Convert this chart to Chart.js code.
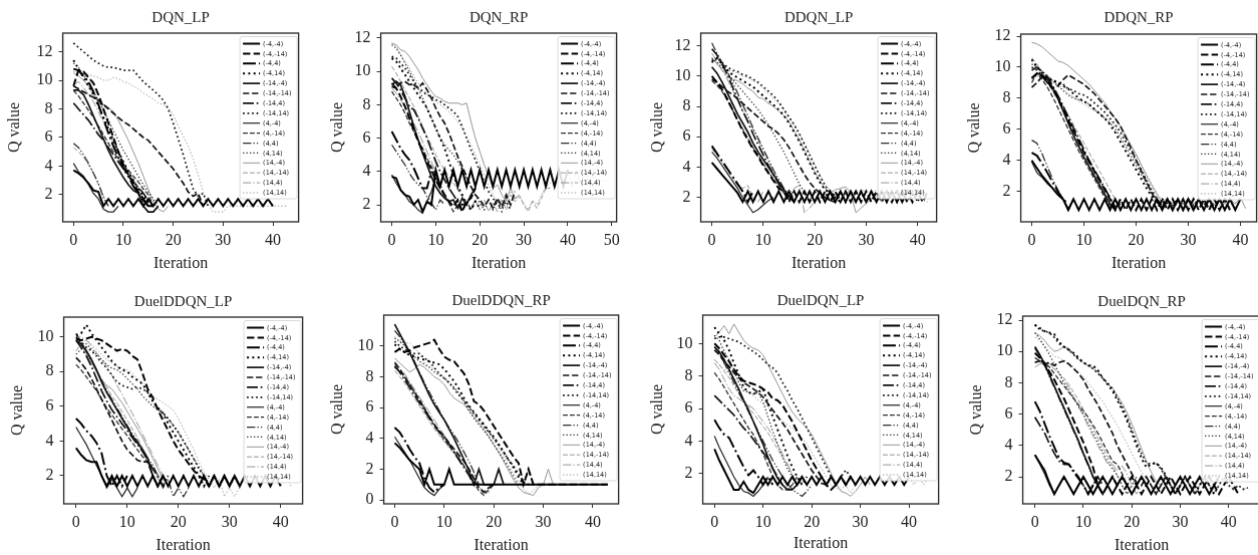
<!DOCTYPE html>
<html><head><meta charset="utf-8">
<script src="https://cdn.jsdelivr.net/npm/chart.js@4.4.1/dist/chart.umd.min.js"></script>
<style>
html,body{margin:0;padding:0;background:#fff;overflow:hidden;width:1258px;height:555px;position:relative;}
.p{position:absolute;}
</style></head><body>
<script>
// ---------- labels & ticks ----------
const seriesLabels = ['(-4,-4)','(-4,-14)','(-4,4)','(-4,14)','(-14,-4)','(-14,-14)','(-14,4)','(-14,14)',
  '(4,-4)','(4,-14)','(4,4)','(4,14)','(14,-4)','(14,-14)','(14,4)','(14,14)'];
const panelTitles = ['DQN_LP','DQN_RP','DDQN_LP','DDQN_RP','DuelDDQN_LP','DuelDDQN_RP','DuelDQN_LP','DuelDQN_RP'];
const xTicks40 = [0,10,20,30,40];
const xTicks50 = [0,10,20,30,40,50];
const yTicks2to12 = [2,4,6,8,10,12];
const yTicks2to10 = [2,4,6,8,10];
const yTicks0to10 = [0,2,4,6,8,10];

// ---------- data: Q value per iteration (index = iteration) ----------
const DQN_LP = [
 [3.7,3.5,3.2,2.8,2.3,2.2, 1.2,1.7,1.2,1.7,1.2,1.7,1.2,1.7,1.2,1.7,1.2,1.7,1.2,1.7,1.2,1.7,1.2,1.7,1.2,1.7,1.2,1.7,1.2,1.7,1.2,1.7,1.2,1.7,1.2,1.7,1.2,1.7,1.2,1.7,1.2],
 [9.6,10.7,10.6,10.2,9.8,9.0,8.0,7.0,6.0,5.0,4.1,3.4,2.8,2.2,1.7,1.2,1.2],
 [10.8,10.7,10.3,9.9,9.2,8.3,7.3,6.3,5.4,4.6,3.9,3.3,2.6,2.1,1.6,1.2],
 [11.4,10.8,10.2,9.6,9.0,8.2,7.4,6.6,5.8,5.0,4.3,3.6,3.0,2.4,1.9,1.4,1.2],
 [9.3,9.3,9.0,8.3,7.5,6.7,5.9,5.1,4.4,3.8,3.2,2.7,2.3,2.1,1.2,0.8,0.8,1.2],
 [9.6,9.4,9.2,9.0,8.8,8.6,8.3,8.0,7.7,7.4,7.1,6.9,6.6,6.3,6.0,5.8,5.4,5.0,4.6,4.2,3.8,3.3,2.8,2.2,1.9,2.1,1.2],
 [8.4,8.0,7.6,7.2,6.7,6.2,5.8,5.3,4.8,4.3,3.8,3.3,2.9,2.5,2.1,1.6,1.2],
 [12.6,12.3,12.0,11.7,11.4,11.2,11.0,10.9,10.9,10.8,10.7,10.7,10.7,10.3,9.9,9.6,9.3,9.0,8.6,8.0,7.0,5.9,4.8,3.6,2.4,1.9,2.1,1.2],
 [4.2,3.6,3.3,2.7,2.1,1.7,1.0,0.8,0.8,1.2],
 [9.3,8.9,8.4,7.9,7.4,6.8,6.2,5.6,5.0,4.5,4.1,3.7,3.3,2.9,2.4,2.0,1.2],
 [5.6,5.3,4.8,4.2,3.5,2.8,1.8,1.2],
 [11.2,10.9,10.4,9.8,9.2,8.6,7.9,7.2,6.5,5.8,5.1,4.5,3.9,3.3,2.7,2.2,1.7,1.2],
 [10.5,10.3,10.0,9.6,9.0,8.5,8.3,8.1,7.8,7.2,6.5,5.8,5.0,4.2,3.3,2.4,1.5,1.0,0.8,1.2],
 [5.3,5.0,4.6,4.1,3.5,2.7,1.9,1.2],
 [9.7,9.9,9.5,9.0,8.5,7.8,7.1,6.4,5.6,4.9,4.2,3.6,3.1,2.5,2.1,1.6,1.2],
 [10.6,10.6,10.5,10.4,10.3,10.2,10.0,10.0,10.2,10.1,9.9,9.8,9.6,9.4,9.1,8.9,8.7,8.4,8.3,8.1,7.6,6.8,6.1,5.4,4.5,3.4,2.2,1.3,0.8,0.8,0.8,1.2,1.2,1.2,1.2,1.2,1.2,1.2,1.2,1.2,1.2,1.2,1.2,1.2]
];
const DQN_RP = [
 [3.7,3.6,2.9,2.6,2.5,2.0,2.3,1.6,2.2,2.0, 4.1,3.1,4.1,3.1,4.1,3.1,4.1,3.1,4.1,3.1,4.1,3.1,4.1,3.1,4.1,3.1,4.1,3.1,4.1,3.1,4.1,3.1,4.1,3.1,4.1,3.1,4.1,3.1,4.1,3.1,4.1],
 [9.1,9.0,8.5,7.9,7.2,6.5,5.8,5.2,4.6,4.1,3.5,3.0,2.6,2.2,1.9,2.3,1.6,2.2,2.4,3.0],
 [6.4,5.9,5.4,5.0,4.7,4.2,3.6,3.0,3.0,4.0],
 [10.8,10.6,10.2,9.8,9.4,9.0,8.6,8.2,7.8,7.2,6.6,6.0,5.4,4.6,3.8,3.1,2.6,2.0,1.7,2.2,1.8],
 [9.2,9.4,9.2,8.5,7.6,6.7,5.9,5.1,4.4,3.7,3.1,2.7,2.4,2.2,2.3,1.8,2.4,2.0,2.6,3.0],
 [9.3,9.0,9.3,9.4,9.2,9.2,9.0,9.3,8.9,8.4,7.8,7.3,6.9,6.3,5.6,4.9,4.3,3.7,3.1,2.6,2.3,1.9,2.3,1.8,2.4,1.9,2.6,2.0,2.8],
 [9.6,9.3,8.9,8.4,7.9,7.7,7.2,6.6,6.0,5.3,4.6,4.0,3.5,3.0,2.6,2.2,2.0,2.1],
 [10.9,10.8,10.5,10.2,9.8,9.4,9.0,8.8,8.6,8.5,8.3,8.2,8.0,7.8,7.6,7.3,6.7,6.0,5.3,4.7,4.0,3.4,2.8,2.4,2.0,1.8,2.2,1.7],
 [3.8,3.3,2.9,2.6,2.2,2.0,1.7,1.5,2.2,2.8,3.6,3.2],
 [8.8,8.4,8.0,7.5,6.9,6.4,5.9,5.4,4.8,4.3,3.8,3.2,2.6,2.1,1.6,2.0,1.6,2.2,1.7,2.2],
 [5.6,5.2,4.8,4.4,3.9,3.5,3.2,3.0,2.5,2.1,1.7,2.3,2.0],
 [11.6,11.4,11.0,10.5,10.0,9.5,9.0,8.4,7.8,7.2,6.6,6.0,5.6,5.3,5.0,4.6,4.1,3.6,3.1,2.6,2.1,1.7,2.3,1.7,2.2,1.6,2.5,2.0],
 [11.7,11.6,11.3,11.2,10.9,10.5,10.1,9.6,9.2,8.8,8.5,8.4,8.2,8.1,8.1,8.1,8.0,8.1,7.0,6.0,5.2,4.4,3.7,3.0,3.2,2.6,2.2,3.0,2.4,2.6],
 [10.3,9.9,9.4,8.9,8.4,7.9,7.3,6.7,6.1,5.6,5.0,4.5,4.1,3.7,3.3,2.9,2.5,2.2,1.8,2.3,1.7,2.3,1.6,2.1,1.6,2.3,1.7,2.6,2.2,2.5,2.0,1.6,2.2,1.8,2.4,3.0,3.0],
 [9.0,8.7,8.3,7.9,7.4,6.9,6.4,5.8,5.2,4.6,3.9, 3.1,4.1,3.1,4.1,3.1,4.1,3.1,4.1,3.1,4.1,3.1,4.1,3.1,4.1,3.1,4.1,3.1,4.1,3.1,4.1,3.1,4.1,3.1,4.1,3.1,4.1,3.1,4.1,3.1,4.1,3.1,4.1,3.1,4.1,3.1,4.1],
 [11.7,11.5,11.0,10.6,10.2,9.7,9.3,8.9,8.6,8.4,8.2,8.0,7.8,7.6,7.3,7.0,6.6,6.1,5.6,5.0,4.4,3.8,3.2,2.6,2.2,1.9,2.4,2.8,2.3,2.6,2.1,1.7,2.3,2.0,2.6,3.1,3.3,3.5,3.4,3.5,3.6,3.4,3.5,3.8,3.6,3.4,3.7,3.5,3.4,3.5]
];
const DDQN_LP = [
 [4.3,3.9,3.5,3.1,2.7,2.3, 1.7,2.4,1.7,2.4,1.7,2.4,1.7,2.4,1.7,2.4,1.7,2.4,1.7,2.4,1.7,2.4,1.7,2.4,1.7,2.4,1.7,2.4,1.7,2.4,1.7,2.4,1.7,2.4,1.7,2.4,1.7,2.4,1.7],
 [10.0,9.6,9.1,8.5,7.8,7.1,6.4,5.8,5.2,4.7,4.1,3.6,3.1,2.6, 2.4,1.7,2.4,1.7,2.4,1.7,2.4,1.7,2.4,1.7,2.4,1.7,2.4,1.7,2.4,1.7,2.4,1.7,2.4,1.7,2.4,1.7,2.4,1.7,2.4,1.7,2.4,1.7,2.4],
 [5.4,4.9,4.4,3.9,3.4,2.9,2.4,1.7,2.4],
 [11.0,11.2,10.8,10.4,10.1,9.9,9.7,9.5,9.3,9.0,8.7,8.4,8.1,7.8,7.4,6.9,6.3,5.7,5.0,4.3,3.6,3.0,2.5,2.3,2.0,1.7,2.4],
 [10.6,10.2,9.6,8.9,8.2,7.5,6.9,6.3,5.6,5.0,4.5,4.0,3.5,3.0,2.5,2.1,1.7],
 [9.8,9.6,9.3,9.0,8.8,8.5,8.2,7.9,7.6,7.3,7.0,6.7,6.5,6.2,5.8,5.3,4.7,4.1,3.5,3.0,2.6,2.3,2.0,1.8,1.7,2.4],
 [11.8,11.4,10.8,10.1,9.3,8.5,7.7,7.0,6.2,5.5,4.8,4.1,3.5,2.9,2.4,2.0],
 [10.9,11.2,10.9,10.6,10.4,10.3,10.1,10.0,9.8,9.6,9.3,9.0,8.7,8.3,7.8,7.3,6.8,6.2,5.5,4.8,4.1,3.4,2.8,2.3, 1.7,2.4,1.7,2.4,1.7,2.4,1.7,2.4,1.7,2.4,1.7,2.4,1.7,2.4,1.7,2.4,1.7,2.4],
 [5.0,4.6,4.1,3.6,3.1,2.6,2.0,1.5,1.0,1.2,1.5,1.8,2.0],
 [9.7,9.4,9.0,8.4,7.8,7.1,6.5,5.9,5.3,4.8,4.2,3.7,3.2,2.7,2.3,1.9,1.7],
 [12.2,11.5,10.9,10.3,9.6,8.9,8.1,7.4,6.6,5.9,5.2,4.5,3.8,3.2,2.6,2.1,2.4],
 [11.2,10.9,10.6,10.2,9.8,9.4,9.0,8.6,8.2,7.8,7.3,6.8,6.2,5.6,5.0,4.3,3.6,2.9,2.3,1.8,2.4],
 [11.2,10.8,10.4,10.0,9.8,9.7,9.5,9.2,9.0,8.6,8.5,8.2,8.0,7.7,7.4,7.0,6.4,5.8,5.1,4.4,3.7,3.1,2.6,2.3,2.5,2.6,2.7,2.3,1.0,1.3,1.6,1.9,2.2,1.7],
 [5.2,4.8,4.3,3.8,3.3,2.8,2.6,2.8,2.0,1.7,2.4],
 [11.5,11.0,10.4,9.8,9.1,8.4,7.7,7.1,6.5,5.8,5.1,4.4,3.7,3.0,2.5,2.3,2.6,2.8,1.0,1.3,1.7,2.0,2.3],
 [11.0,11.0,10.7,10.4,10.3,10.2,10.0,9.9,9.7,9.5,9.2,8.8,8.5,8.2,7.8,7.3,6.8,6.2,5.6,4.9,4.2,3.5,2.9,2.4,2.2,2.0,2.3,2.4,2.3,2.5,2.4,2.2,2.5,2.2,2.4,2.1,2.5,2.3,2.2,2.4,2.0,1.8,1.7]
];
const DDQN_RP = [
 [4.0,3.5,3.0,2.6,2.2,1.8, 1.5,0.8,1.5,0.8,1.5,0.8,1.5,0.8,1.5,0.8,1.5,0.8,1.5,0.8,1.5,0.8,1.5,0.8,1.5,0.8,1.5,0.8,1.5,0.8,1.5,0.8,1.5,0.8,1.5,0.8,1.5,0.8,1.5,0.8,1.5],
 [9.3,9.6,9.4,9.1,8.6,8.0,7.3,6.6,5.9,5.2,4.5,3.9,3.3,2.7,2.1, 1.5,0.8,1.5,0.8,1.5,0.8,1.5,0.8,1.5,0.8,1.5,0.8,1.5,0.8,1.5,0.8,1.5,0.8,1.5,0.8,1.5,0.8,1.5,0.8],
 [4.5,4.3,3.8,3.2,2.6,2.0,1.5,1.2],
 [10.5,10.0,9.6,9.3,9.2,9.0,8.8,8.6,8.3,8.0,7.8,7.6,7.3,7.0,6.7,6.3,5.8,5.2,4.6,4.0,3.4,2.8,2.2,1.7,1.2,1.5,1.2],
 [9.3,9.6,9.5,9.2,8.7,8.0,7.2,6.4,5.6,4.9,4.2,3.6,3.0,2.4,1.8,1.2,0.8,1.5],
 [8.7,9.0,9.4,9.0,8.6,8.8,9.2,9.5,9.3,9.1,8.9,8.6,8.3,7.9,7.5,7.1,6.7,6.2,5.5,4.8,4.0,3.3,2.6,1.9,1.3,1.0,1.5,0.8,1.5,0.8,1.5,0.8,1.5],
 [9.8,10.0,9.7,9.4,8.8,8.2,7.5,6.8,6.1,5.4,4.7,4.0,3.4,2.8,2.2,1.6,1.0,1.2],
 [10.0,9.8,9.5,9.3,9.1,9.0,8.9,8.6,8.5,8.3,8.2,8.0,7.7,7.4,7.1,6.7,6.3,5.8,5.2,4.6,4.0,3.4,2.7,2.1,1.5,1.1,1.5,1.1,1.5,1.1,1.5,1.1,1.5,1.1,1.5,1.0,1.5,0.9,1.4,0.9],
 [3.9,3.2,2.9,2.5,2.2,1.8,1.5,0.8,1.5],
 [9.0,9.6,9.2,8.7,8.1,7.4,6.7,6.0,5.3,4.6,4.0,3.4,2.8,2.2,1.6,1.0,1.5],
 [5.3,5.1,4.4,3.6,2.8,2.1,1.5,0.9,1.5],
 [10.2,10.0,9.7,9.4,9.1,8.8,8.5,8.2,8.0,7.9,7.8,7.6,7.3,7.0,6.7,6.4,6.0,5.5,4.9,4.3,3.7,3.1,2.5,1.9,1.4,1.0,1.5],
 [11.6,11.5,11.3,11.0,10.7,10.4,10.3,10.1,9.8,9.5,9.2,8.9,8.5,8.1,7.7,7.2,6.7,6.2,5.6,5.0,4.4,3.7,3.0,2.4,1.8,1.3,1.5,1.2,1.5,1.2,1.5,1.2,1.5,1.2,1.5,1.2,1.5,1.2,1.5,1.2,1.6,0.9],
 [10.6,10.2,9.7,9.0,8.5,8.0,7.5,6.9,6.3,5.7,5.1,4.5,3.9,3.3,2.7,2.1,1.5,1.0],
 [9.2,9.5,9.3,9.0,8.5,7.9,7.2,6.5,5.8,5.2,4.5,3.9,3.3,2.7,2.1,1.5,1.0],
 [10.4,10.1,9.8,9.5,9.2,8.9,8.6,8.3,8.1,7.8,7.6,7.4,7.2,7.0,6.8,6.5,6.2,5.9,5.4,4.9,4.3,3.7,3.1,2.5,1.9,1.4,1.0,1.3,1.2,1.5,1.0,1.4,1.2,1.5,1.0,1.4,1.1,1.5,1.0,1.3,1.2]
];
const DuelDDQN_LP = [
 [3.6,3.2,2.9,2.8,2.8, 2.0,1.4,2.0,1.4,2.0,1.4,2.0,1.4,2.0,1.4,2.0,1.4,2.0,1.4,2.0,1.4,2.0,1.4,2.0,1.4,2.0,1.4,2.0,1.4,2.0,1.4,2.0,1.4,2.0,1.4,2.0,1.4,2.0,1.4,2.0,1.4],
 [9.9,9.8,9.9,10.0,9.9,9.8,9.6,9.4,9.2,9.3,9.2,8.9,8.7,7.9,7.0,6.5,5.8,5.2,4.6,4.0,3.5,3.1,2.7,2.3,2.0,1.8,1.4,2.0,1.4,2.0,1.4,2.0,1.4],
 [5.3,5.0,4.6,4.3,3.9,3.3,2.0,1.4,2.0,1.4,2.0],
 [10.1,10.2,10.7,10.2,9.8,9.4,9.0,8.6,8.3,8.1,8.0,7.7,7.5,7.3,6.8,6.3,5.9,5.6,5.0,4.5,4.0,3.5,3.0,2.5,2.0,1.4,2.0],
 [9.8,9.6,9.2,8.7,8.1,7.4,6.8,6.3,5.8,5.3,4.8,4.3,3.9,3.5,3.0,2.0,1.4,2.0],
 [8.8,8.5,8.1,7.6,7.0,6.4,5.8,5.2,4.6,4.0,3.5,3.2,2.9,2.8,2.8,2.0,1.4],
 [9.8,9.4,8.9,8.3,7.6,6.9,6.3,5.8,5.4,5.0,4.6,4.2,3.8,3.4,2.9,2.4,2.0,1.4,2.0],
 [10.0,9.7,9.4,9.2,8.9,8.5,8.2,7.8,7.4,7.2,7.1,7.0,7.1,7.0,6.8,6.3,5.9,5.6,5.3,4.9,4.5,4.0,3.5,3.0,2.4,2.0,1.4,2.0,1.4,2.0,1.4,2.0],
 [4.8,4.3,3.8,3.2,2.6,2.0,1.3,1.8,1.3,0.8,1.3,0.8,1.3],
 [8.4,8.1,7.7,7.3,6.9,6.4,5.9,5.5,5.1,4.7,4.3,3.9,3.5,3.1,2.8,2.0,1.3],
 [10.2,9.7,9.2,8.6,8.1,7.5,6.9,6.4,5.9,5.4,4.9,4.4,4.0,3.5,3.0,2.6,2.0,1.3,1.8,0.8,1.3,0.8,1.3],
 [9.0,9.3,9.6,9.3,9.0,8.7,8.4,8.2,8.1,7.9,7.6,7.3,7.0,6.6,6.3,6.0,5.8,5.6,5.3,4.9,4.5,4.0,3.5,3.0,2.5,2.0,1.3],
 [9.8,9.5,9.0,8.5,8.0,7.5,7.2,7.0,6.6,6.2,5.7,5.2,4.7,4.2,3.6,3.0,2.4,1.8,1.4,2.0,1.4],
 [9.9,9.6,9.1,8.6,8.1,7.6,7.1,6.6,6.2,5.7,5.2,4.7,4.2,3.6,3.0,2.4,1.8,1.4],
 [9.2,9.6,9.8,9.5,9.1,8.7,8.3,7.8,7.2,6.7,6.1,5.6,5.0,4.4,3.8,3.2,2.6,2.0],
 [10.1,10.0,9.8,9.6,9.3,9.0,8.7,8.5,8.3,8.2,8.1,7.9,7.6,7.3,7.0,6.6,6.4,6.2,6.0,5.8,5.3,4.7,4.1,3.5,2.8,2.2,1.8,1.3,1.8,0.8,1.3,0.8,1.3,2.0,1.4,2.0,1.4,2.0,1.4,2.0,1.4,2.0,1.4]
];
const DuelDDQN_RP = [
 [3.7,3.4,3.0,2.6,2.3,2.0,1.0,2.0,1.0,1.0,1.0,2.0,1.0,1.0,1.0,1.0,1.0,1.0,1.0,1.0,1.0,1.0,1.0,1.0,1.0,1.0,1.0,1.0,1.0,1.0,1.0,1.0,1.0,1.0,1.0,1.0,1.0,1.0,1.0,1.0,1.0,1.0,1.0,1.0],
 [9.6,9.8,9.6,9.7,9.9,10.0,10.1,10.2,10.4,9.8,9.3,9.1,9.0,8.6,8.2,7.5,6.4,6.2,5.8,5.3,4.8,4.3,3.8,3.3,2.8,2.4,1.0,2.0,1.0,1.0,1.0,1.0,1.0,1.0,1.0,1.0,1.0,1.0,1.0,1.0,1.0,1.0,1.0,1.0],
 [4.7,4.4,3.9,3.3,2.8,2.4,1.4,0.8,0.5,0.8,1.0],
 [10.1,9.8,9.6,9.4,9.3,9.2,9.1,9.0,8.9,8.8,8.5,8.1,7.7,7.2,6.6,6.1,5.7,5.3,4.9,4.5,4.1,3.6,3.1,2.6,2.1,1.5,1.0],
 [11.4,10.8,10.2,9.6,8.9,8.2,7.5,6.8,6.2,5.7,5.2,4.6,4.0,3.3,2.6,1.9,1.0,2.0,1.0,1.0,1.0,2.0,1.0],
 [8.9,8.5,8.0,7.5,7.0,6.5,5.9,5.4,4.9,4.5,4.1,3.7,3.3,2.9,2.5,2.0,1.4,0.8,0.5,0.8,1.0],
 [8.7,8.3,7.8,7.3,6.8,6.3,5.8,5.3,4.8,4.4,4.1,3.6,3.1,2.6,2.1,1.6,1.0],
 [10.3,10.0,9.8,9.6,9.5,9.5,9.2,9.0,8.6,8.2,7.9,7.6,7.2,6.8,6.4,6.0,5.6,5.2,4.8,4.4,4.0,3.6,3.1,2.6,2.2,1.7,1.2,1.0,1.0],
 [4.1,3.6,3.1,2.6,2.0,1.4,0.8,0.5,0.3,0.7,1.0],
 [8.6,8.4,8.0,7.5,7.0,6.5,6.0,5.4,4.9,4.4,3.9,3.5,3.1,2.7,2.2,1.7,1.1,0.6,0.3,0.7,1.0],
 [11.0,10.6,10.1,9.6,9.0,8.3,7.6,7.0,6.4,5.8,5.2,4.7,4.2,3.7,3.1,2.5,1.8,1.0],
 [10.5,10.3,10.0,9.6,9.3,9.0,8.8,8.6,8.3,8.1,7.9,7.6,7.3,6.9,6.4,5.8,5.3,4.9,4.5,4.1,3.6,3.1,2.6,2.1,1.5,1.0,1.0,2.0,1.0],
 [9.2,8.9,8.6,8.3,8.5,8.8,8.6,8.3,8.0,7.8,7.5,7.0,6.6,6.4,6.2,5.8,5.4,5.0,4.6,4.1,3.6,3.1,2.5,1.9,1.3,0.8,0.5,0.4,0.3,0.8,1.0,2.0,1.0],
 [8.4,8.0,7.6,7.1,6.6,6.1,5.6,5.1,4.6,4.2,3.8,3.4,3.0,2.6,2.2,1.7,1.2,0.8,0.6,0.5,1.0],
 [9.0,8.6,8.2,7.7,7.2,6.7,6.2,5.7,5.2,4.7,4.2,3.7,3.2,2.7,2.2,1.7,1.0],
 [10.6,10.3,10.2,10.2,9.9,9.5,8.9,8.7,8.5,8.2,8.0,7.7,7.3,6.9,6.5,6.1,5.7,5.3,4.9,4.4,3.9,3.4,2.8,2.2,1.7,1.2,0.7,0.4,0.6,1.0,1.0,1.0,1.0,1.0,1.0,1.0,1.0,1.0,1.0,1.0,1.0,1.0,1.0,1.0]
];
const DuelDQN_LP = [
 [3.5,2.8,2.2,1.6,1.0,1.0,1.5,1.0,0.8,1.3, 1.8,1.3,1.8,1.3,1.8,1.3,1.8,1.3,1.8,1.3,1.8,1.3,1.8,1.3,1.8,1.3,1.8,1.3,1.8,1.3,1.8,1.3,1.8,1.3,1.8,1.3,1.8,1.3,1.8,1.3,1.8],
 [10.0,9.7,9.3,8.9,8.4,8.0,7.7,7.6,7.5,7.4,7.2,7.0,6.6,6.5,6.2,5.7,5.2,4.6,4.0,3.4,2.8,2.3,1.8,1.3,1.0,1.3,1.8,1.3,1.8],
 [5.3,4.8,4.4,4.2,3.6,3.0,2.4,1.9,2.2,1.8,1.3,1.8,1.3],
 [11.0,10.6,10.2,9.6,8.8,8.1,7.3,7.0,6.9,7.0,7.2,6.3,5.5,4.7,3.9,3.1,2.4,1.8,1.3,1.8],
 [9.8,9.5,9.0,8.4,7.8,7.2,6.5,5.9,5.2,4.5,3.8,3.0,2.3,1.7,1.3,1.0,1.0,1.3,1.8],
 [9.6,9.3,8.9,8.6,8.2,7.9,7.6,7.4,7.2,7.0,6.7,6.3,5.9,5.5,5.1,4.7,4.2,3.7,3.2,2.7,2.2,1.8,1.4,1.3,1.8],
 [6.8,6.5,6.2,5.9,5.6,5.2,4.8,4.5,4.1,3.7,3.3,2.9,2.3,1.8,1.3],
 [10.3,10.4,10.4,10.3,10.2,10.1,9.9,9.7,9.5,9.3,9.0,8.7,8.5,8.2,7.6,7.1,6.5,6.0,5.4,4.8,4.2,3.6,3.0,2.4,1.8,1.3,1.8,2.2,1.8,1.3],
 [4.3,3.6,3.0,2.4,1.8,1.3,0.9,0.8,0.6,0.9,1.3,1.8],
 [8.2,7.8,7.3,6.8,6.3,5.8,5.3,4.8,4.4,3.8,3.2,2.5,1.8,1.3,1.0,1.0,1.3,1.8,1.3],
 [9.8,9.4,8.8,8.2,7.6,7.0,6.4,5.8,5.2,4.6,4.0,3.4,2.8,2.3,1.8,1.4,1.0,0.8,0.6,0.9,1.3],
 [10.5,10.2,9.5,9.0,8.4,7.6,7.1,7.0,6.9,7.0,6.4,5.5,4.6,3.8,3.0,2.3,1.8,1.3],
 [10.4,10.7,11.1,10.6,11.2,10.7,10.2,9.9,9.7,9.6,9.3,8.7,8.1,7.5,6.9,6.3,5.8,5.4,5.1,4.8,4.4,3.8,3.2,2.6,2.0,1.4,0.9,0.8,0.6,0.9,1.3,1.8,1.3],
 [9.0,8.7,8.3,7.9,7.4,6.9,6.5,6.1,5.7,5.3,4.9,4.5,4.0,3.5,3.0,2.5,1.9,1.3],
 [8.8,8.4,7.8,7.2,6.8,6.6,6.4,6.2,6.0,5.6,5.2,4.8,4.3,3.8,3.2,2.6,2.0,1.3],
 [9.0,8.7,8.4,8.2,7.9,7.6,7.3,7.0,6.8,6.5,6.3,6.1,5.8,5.5,5.2,5.0,4.8,4.5,4.2,3.8,3.3,2.8,2.3,1.8,1.3,1.1,1.0,1.3,0.8,1.3,1.8,1.3,1.8,1.3,1.8,1.3,1.8,1.3,1.8,1.3,1.8,1.3,1.8,1.3,1.8]
];
const DuelDQN_RP = [
 [3.4,2.9,2.4,1.6, 0.9,1.45,2.0,1.45,0.9,1.45,2.0,1.45,0.9,1.45,2.0,1.45,0.9,1.45,2.0,1.45,0.9,1.45,2.0,1.45,0.9,1.45,2.0,1.45,0.9,1.45,2.0,1.45,0.9,1.45,2.0,1.45,0.9,1.45,2.0],
 [9.9,9.6,9.2,8.7,8.2,7.6,7.0,6.3,5.6,4.9,4.2,3.4,2.6,1.45, 0.9,1.45,2.0,1.45,0.9,1.45,2.0,1.45,0.9,1.45,2.0,1.45,0.9,1.45,2.0,1.45,0.9,1.45,2.0,1.45,0.9,1.45,2.0,1.45,0.9,1.45,2.0,1.45,0.9],
 [6.8,6.2,5.4,4.6,3.9,3.2,2.9,2.8,2.3,1.9,1.45,0.9,1.45,2.0],
 [11.7,11.5,11.3,11.2,11.1,10.6,10.3,10.1,9.9,9.6,9.3,9.1,9.1,8.8,8.3,7.9,7.5,6.9,6.3,5.6,4.8,4.0,3.2,2.6,2.8,2.9,2.6,2.1,1.45,0.9,1.45,2.0,1.45,0.9,1.45,2.0,1.45,0.9],
 [10.3,9.8,9.2,8.5,7.8,7.1,6.4,5.7,5.0,4.3,3.5,2.8,2.0,1.45,0.9,1.45,2.0,1.45],
 [9.3,9.4,9.2,9.3,9.1,9.3,9.4,9.2,8.9,8.6,8.2,7.6,7.1,6.6,6.0,5.4,4.8,4.0,3.4,2.8,2.2,1.6,1.45,2.0,1.45,0.9,1.45,2.0,1.45,0.9,1.45,2.0,1.45,0.9],
 [5.8,5.3,4.8,4.1,3.5,3.0,2.8,2.8,2.4,2.0,1.45,0.9,1.45,2.0,1.45],
 [11.7,11.4,11.3,11.2,10.9,10.5,10.3,10.1,9.8,9.5,9.3,9.1,8.9,8.6,8.3,8.0,7.6,7.1,6.5,5.8,5.0,4.2,3.5,2.9,2.8,2.9,2.5,2.0,1.45,0.9,1.45,2.0,1.45,0.9,1.45,2.0,1.45,0.9,1.45,2.0,1.45,1.2,1.45,1.2,1.3],
 [3.4,2.8,2.2,1.45,0.9,1.45,2.0,1.45,0.9,1.45,2.0,1.45,0.9,1.45],
 [9.6,9.4,9.3,9.0,8.6,8.2,7.8,7.4,7.0,6.6,6.2,5.8,5.3,4.8,4.2,3.6,3.0,2.8,2.2,1.45,0.9,1.45,2.0,1.45,0.9,1.45,2.0],
 [10.2,9.7,9.1,8.4,7.7,7.0,6.3,5.6,4.9,4.2,3.4,2.7,2.0,1.45,0.9,1.45,2.0],
 [11.2,10.8,10.3,9.8,9.2,8.6,8.0,7.5,7.0,6.5,6.0,5.4,4.8,4.2,3.6,3.0,2.5,2.1,1.45,0.9,1.45,2.0],
 [11.2,11.0,10.7,10.3,10.0,10.1,10.3,10.2,9.8,9.5,9.3,9.1,8.9,8.7,8.3,7.9,7.7,7.2,6.7,6.1,5.4,4.6,3.8,3.0,2.3,1.7,1.45,2.0,1.45,0.9,1.45,2.0,1.45,0.9,1.45,2.0,1.45,0.9],
 [9.6,9.3,9.1,9.0,8.9,8.6,8.3,7.9,7.4,6.9,6.3,5.7,5.1,4.5,3.9,3.3,2.7,2.1,1.45,0.9,1.45,2.0],
 [9.0,9.2,9.4,9.2,8.9,8.6,8.2,7.7,7.1,6.5,5.9,5.2,4.6,4.0,3.4,2.8,2.8,2.4,2.7,2.2,1.45,0.9,1.45,2.0,1.45,0.9],
 [10.9,10.7,10.4,10.0,9.7,9.6,9.4,9.2,9.0,8.7,8.4,8.0,7.6,7.2,6.8,6.3,5.8,5.3,4.7,4.1,3.5,2.9,2.3,1.9,1.45,0.9,1.45,2.0,1.45,0.9,1.45,2.0,1.45,1.2,1.45,2.0,1.45,1.2,1.45,2.0,1.45,1.2,1.45,1.2,1.3]
];

// ---------- panel layout (pixel placement of each plot box) ----------
const panels = [
 {title:panelTitles[0], data:DQN_LP,      L:63,  R:298,  T:33,  B:221, yl:15,  ty:18,  xl:263, xmin:-2.15, xmax:45.15, ymin:0.1,   ymax:13.3,  xt:xTicks40, yt:yTicks2to12},
 {title:panelTitles[1], data:DQN_RP,      L:381, R:616,  T:33,  B:221, yl:338, ty:18,  xl:263, xmin:-2.5,  xmax:51.1,  ymin:0.98,  ymax:12.3,  xt:xTicks50, yt:yTicks2to12},
 {title:panelTitles[2], data:DDQN_LP,     L:701, R:936,  T:33,  B:221, yl:658, ty:18,  xl:263, xmin:-2.15, xmax:43.7,  ymin:0.39,  ymax:12.84, xt:xTicks40, yt:yTicks2to12},
 {title:panelTitles[3], data:DDQN_RP,     L:1021,R:1256, T:34,  B:221, yl:975, ty:18,  xl:263, xmin:-2.1,  xmax:43.1,  ymin:0.04,  ymax:12.13, xt:xTicks40, yt:yTicks2to12},
 {title:panelTitles[4], data:DuelDDQN_LP, L:64,  R:302,  T:317, B:503, yl:18,  ty:302, xl:545, xmin:-2.4,  xmax:44.3,  ymin:0.38,  ymax:11.14, xt:xTicks40, yt:yTicks2to10},
 {title:panelTitles[5], data:DuelDDQN_RP, L:384, R:618,  T:315, B:503, yl:338, ty:301, xl:545, xmin:-2.2,  xmax:45.2,  ymin:-0.25, ymax:12.0,  xt:xTicks40, yt:yTicks0to10},
 {title:panelTitles[6], data:DuelDQN_LP,  L:703, R:938,  T:315, B:503, yl:658, ty:301, xl:543, xmin:-2.4,  xmax:46.1,  ymin:0.13,  ymax:11.75, xt:xTicks40, yt:yTicks2to10},
 {title:panelTitles[7], data:DuelDQN_RP,  L:1023,R:1260, T:316, B:503, yl:977, ty:302, xl:545, xmin:-2.5,  xmax:46.6,  ymin:0.27,  ymax:12.26, xt:xTicks40, yt:yTicks2to12}
];

// ---------- styles ----------
const groupStyle = [
  {color:'#000000', width:2.0},
  {color:'#111111', width:1.7},
  {color:'#2b2b2b', width:1.25},
  {color:'#8f8f8f', width:0.95}
];
const baseDash = [[], [3.7,1.6], [6.4,1.6,1,1.6], [1,1.65]];
function styleFor(i){
  const g = groupStyle[Math.floor(i/4)];
  let d = baseDash[i%4];
  if (i === 10) d = [6.4,1.6,1,1.6,1,1.6];
  const s = Math.max(g.width, 1.3);
  return {color:g.color, width:g.width, dash:d.map(v=>v*s)};
}

const SERIF = '"Liberation Serif","DejaVu Serif",serif';
const PAD_R = 14;

const boxPlugin = {
  id:'boxAndLegend',
  afterDatasetsDraw(chart){
    const ctx = chart.ctx, ca = chart.chartArea;
    ctx.save();
    // frame
    ctx.strokeStyle = '#333'; ctx.lineWidth = 1.4; ctx.setLineDash([]);
    ctx.strokeRect(ca.left, ca.top, ca.right-ca.left, ca.bottom-ca.top);
    // legend
    const bw = 57, rowH = 9.9, n = chart.data.datasets.length;
    const bh = 7 + (n-1)*rowH + 6;
    const bx = ca.right - bw - 1.5, by = ca.top + 3.5;
    ctx.beginPath();
    if (ctx.roundRect) ctx.roundRect(bx, by, bw, bh, 2); else ctx.rect(bx,by,bw,bh);
    ctx.fillStyle = 'rgba(255,255,255,0.85)'; ctx.fill();
    ctx.strokeStyle = '#cfcfcf'; ctx.lineWidth = 0.8; ctx.stroke();
    ctx.font = '6.5px "DejaVu Sans", sans-serif';
    ctx.textBaseline = 'middle'; ctx.textAlign = 'left';
    chart.data.datasets.forEach((ds, i) => {
      const y = by + 7 + i*rowH;
      ctx.beginPath();
      ctx.strokeStyle = ds.borderColor; ctx.lineWidth = ds.borderWidth;
      ctx.setLineDash(ds.borderDash || []);
      ctx.moveTo(bx+3, y); ctx.lineTo(bx+20, y); ctx.stroke();
      ctx.setLineDash([]);
      ctx.fillStyle = '#222';
      ctx.fillText(ds.label, bx+23, y+0.5);
    });
    ctx.restore();
  }
};

panels.forEach((p) => {
  const cLeft = p.yl - 9.6;
  const cTop = p.ty - 9;
  const cRight = p.R + PAD_R;
  const cBottom = p.xl + 9.6;
  const div = document.createElement('div');
  div.className = 'p';
  div.style.left = cLeft + 'px'; div.style.top = cTop + 'px';
  div.style.width = (cRight - cLeft) + 'px'; div.style.height = (cBottom - cTop) + 'px';
  const cv = document.createElement('canvas');
  div.appendChild(cv); document.body.appendChild(div);
  const yW = p.L - cLeft, xH = cBottom - p.B, titleBottomPad = p.T - cTop - 18;

  const datasets = p.data.map((arr, i) => {
    const st = styleFor(i);
    return {
      label: seriesLabels[i],
      data: arr.map((v, k) => ({x:k, y:v})),
      borderColor: st.color, borderWidth: st.width, borderDash: st.dash,
      pointRadius: 0, fill:false, tension:0, borderCapStyle:'butt', borderJoinStyle:'miter'
    };
  });

  new Chart(cv, {
    type:'line',
    data:{datasets},
    options:{
      responsive:true, maintainAspectRatio:false, animation:false,
      layout:{padding:{left:0, top:0, bottom:0, right:PAD_R}},
      plugins:{
        legend:{display:false}, tooltip:{enabled:false},
        title:{display:true, text:p.title, fullSize:false, color:'#222',
          font:{family:SERIF, size:15, weight:'normal', lineHeight:1.2},
          padding:{top:0, bottom:titleBottomPad}}
      },
      scales:{
        x:{type:'linear', min:p.xmin, max:p.xmax,
          afterBuildTicks: s => { s.ticks = p.xt.map(v => ({value:v})); },
          afterFit: s => { s.height = xH; },
          grid:{display:true, drawOnChartArea:false, drawTicks:true, tickLength:4, color:'#333', lineWidth:1},
          border:{display:false},
          ticks:{color:'#222', padding:5, maxRotation:0, font:{family:SERIF, size:16}},
          title:{display:true, text:'Iteration', color:'#222', padding:0, font:{family:SERIF, size:16, lineHeight:1.2}}
        },
        y:{type:'linear', min:p.ymin, max:p.ymax,
          afterBuildTicks: s => { s.ticks = p.yt.map(v => ({value:v})); },
          afterFit: s => { s.width = yW; },
          grid:{display:true, drawOnChartArea:false, drawTicks:true, tickLength:4, color:'#333', lineWidth:1},
          border:{display:false},
          ticks:{color:'#222', padding:6, font:{family:SERIF, size:16}},
          title:{display:true, text:'Q value', color:'#222', padding:0, font:{family:SERIF, size:16, lineHeight:1.2}}
        }
      }
    },
    plugins:[boxPlugin]
  });
});
</script>
</body></html>
